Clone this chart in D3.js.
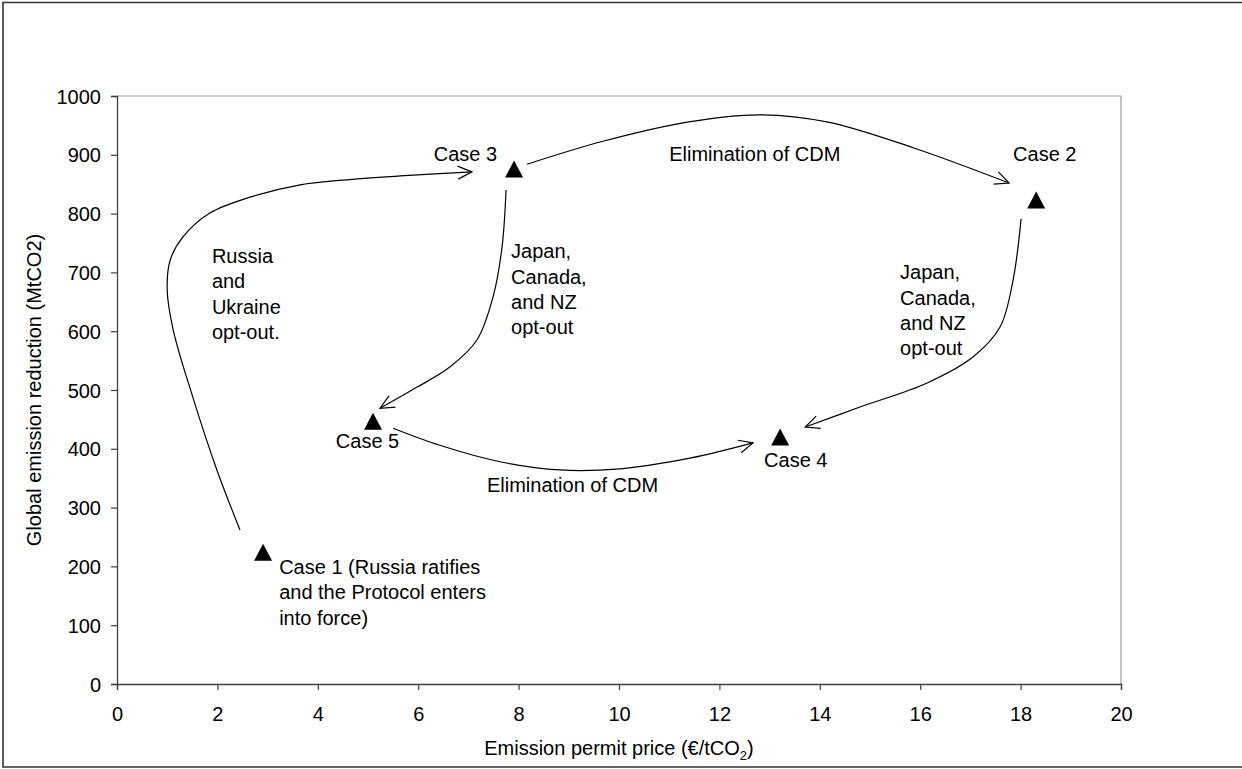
<!DOCTYPE html>
<html>
<head>
<meta charset="utf-8">
<script src="https://cdn.jsdelivr.net/npm/d3@7"></script>
<style>
  body { margin: 0; background: #fff; }
  svg { display: block; font-family: "Liberation Sans", Arial, sans-serif; }
</style>
</head>
<body>
<svg id="chart" width="1242" height="769"></svg>
<script>
// ---------------- data ----------------
const xTicks = [0, 2, 4, 6, 8, 10, 12, 14, 16, 18, 20];
const yTicks = [0, 100, 200, 300, 400, 500, 600, 700, 800, 900, 1000];

const caseNames  = ["Case 1", "Case 2", "Case 3", "Case 4", "Case 5"];
const casePrice  = [2.91, 18.31, 7.91, 13.21, 5.10];     // €/tCO2
const caseReduct = [224, 823, 876, 420, 447];            // MtCO2

// transition arrows (price, reduction) points along each curved arrow
const arrowRussia = [[2.45,262],[1.99,364],[1.51,488],[1.12,602],[1.00,670],[1.06,721],[1.31,760],[1.85,801],[2.65,828],[3.65,849],[4.50,857],[5.64,864],[7.07,871]];
const arrowTopCDM = [[8.17,884],[9.68,923],[11.39,956],[12.77,968],[14.14,956],[15.86,912],[17.77,852]];
const arrowJapanMid = [[7.75,840],[7.67,743],[7.49,658],[7.17,585],[6.63,539],[5.98,505],[5.24,469]];
const arrowJapanRight = [[18.01,791],[17.85,687],[17.59,607],[17.05,556],[16.14,512],[14.80,471],[13.71,437]];
const arrowBottomCDM = [[5.50,435],[6.43,406],[7.63,378],[8.82,364],[10.02,366],[11.41,384],[12.67,410]];
const arrows = [arrowRussia, arrowTopCDM, arrowJapanMid, arrowJapanRight, arrowBottomCDM];

// annotation texts: [price, reduction] anchor of first line, lines
const labelText = [
  ["Case 3"],
  ["Elimination of CDM"],
  ["Case 2"],
  ["Russia", "and", "Ukraine", "opt-out."],
  ["Japan,", "Canada,", "and NZ", "opt-out"],
  ["Japan,", "Canada,", "and NZ", "opt-out"],
  ["Case 5"],
  ["Case 4"],
  ["Elimination of CDM"],
  ["Case 1 (Russia ratifies", "and the Protocol enters", "into force)"]
];
const labelAt = [
  [6.31, 889], [11.0, 889], [17.85, 889], [1.89, 716], [7.85, 724],
  [15.60, 688], [4.36, 401], [12.89, 369], [7.37, 327], [3.23, 187]
];

const xTitle = "Emission permit price (€/tCO";
const yTitle = "Global emission reduction (MtCO2)";

// ---------------- drawing ----------------
const svg = d3.select("#chart");
const plot = { left: 117, right: 1121, top: 96, bottom: 684 };

const x = d3.scaleLinear().domain([0, 20]).range([plot.left, plot.right]);
const y = d3.scaleLinear().domain([0, 1000]).range([plot.bottom, plot.top]);

// outer frame
svg.append("path")
  .attr("d", "M1250,2.5 L3,2.5 L3,767 L1250,767")
  .attr("fill", "none").attr("stroke", "#333").attr("stroke-width", 1.6);

// plot border (top & right)
svg.append("path")
  .attr("d", `M${plot.left},${plot.top} L${plot.right},${plot.top} L${plot.right},${plot.bottom}`)
  .attr("fill", "none").attr("stroke", "#a0a0a0").attr("stroke-width", 1.2);

// axes
const xAxis = svg.append("g")
  .attr("transform", `translate(0,${plot.bottom})`)
  .call(d3.axisBottom(x).tickValues(xTicks).tickSize(6).tickPadding(17).tickFormat(d3.format("d")));
const yAxis = svg.append("g")
  .attr("transform", `translate(${plot.left},0)`)
  .call(d3.axisLeft(y).tickValues(yTicks).tickSize(6).tickPadding(10).tickFormat(d3.format("d")));

[xAxis, yAxis].forEach(g => {
  g.select(".domain").attr("stroke", "#404040").attr("stroke-width", 1.3);
  g.selectAll(".tick line").attr("stroke", "#404040").attr("stroke-width", 1.2);
  g.selectAll(".tick text").attr("fill", "#000").style("font-size", "20px")
    .style("font-family", "'Liberation Sans', Arial, sans-serif");
});
yAxis.selectAll(".tick text").attr("dy", "0.35em");

// axis titles
const xt = svg.append("text")
  .attr("x", (plot.left + plot.right) / 2).attr("y", 755)
  .attr("text-anchor", "middle").style("font-size", "20px");
xt.append("tspan").text(xTitle);
xt.append("tspan").text("2").style("font-size", "13px").attr("dy", 5);
xt.append("tspan").text(")").attr("dy", -5);

svg.append("text")
  .attr("transform", `translate(41,${(plot.top + plot.bottom) / 2}) rotate(-90)`)
  .attr("text-anchor", "middle").style("font-size", "20px")
  .text(yTitle);

// arrow marker
const defs = svg.append("defs");
defs.append("marker")
  .attr("id", "openArrow")
  .attr("markerUnits", "userSpaceOnUse")
  .attr("viewBox", "-2 -2 18 17")
  .attr("markerWidth", 18).attr("markerHeight", 17)
  .attr("refX", 14).attr("refY", 6.5)
  .attr("orient", "auto")
  .append("path")
  .attr("d", "M0,0 L14,6.5 L0,13")
  .attr("fill", "none").attr("stroke", "#000").attr("stroke-width", 1.2);

const line = d3.line()
  .x(d => x(d[0])).y(d => y(d[1]))
  .curve(d3.curveCatmullRom.alpha(0.5));

svg.append("g").selectAll("path")
  .data(arrows).join("path")
  .attr("d", line)
  .attr("fill", "none").attr("stroke", "#000").attr("stroke-width", 1.2)
  .attr("marker-end", "url(#openArrow)");

// triangle markers
const triW = 18, triH = 17;
svg.append("g").selectAll("path")
  .data(caseNames.map((n, i) => ({ name: n, px: casePrice[i], ry: caseReduct[i] })))
  .join("path")
  .attr("transform", d => `translate(${x(d.px)},${y(d.ry)})`)
  .attr("d", `M0,${-triH / 2} L${triW / 2},${triH / 2} L${-triW / 2},${triH / 2} Z`)
  .attr("fill", "#000");

// annotation labels
const lab = svg.append("g").style("font-size", "20px").attr("fill", "#000");
labelText.forEach((lines, i) => {
  const t = lab.append("text")
    .attr("x", x(labelAt[i][0])).attr("y", y(labelAt[i][1]));
  lines.forEach((s, j) => {
    t.append("tspan").attr("x", x(labelAt[i][0])).attr("dy", j === 0 ? 0 : 25.3).text(s);
  });
});
</script>
</body>
</html>
